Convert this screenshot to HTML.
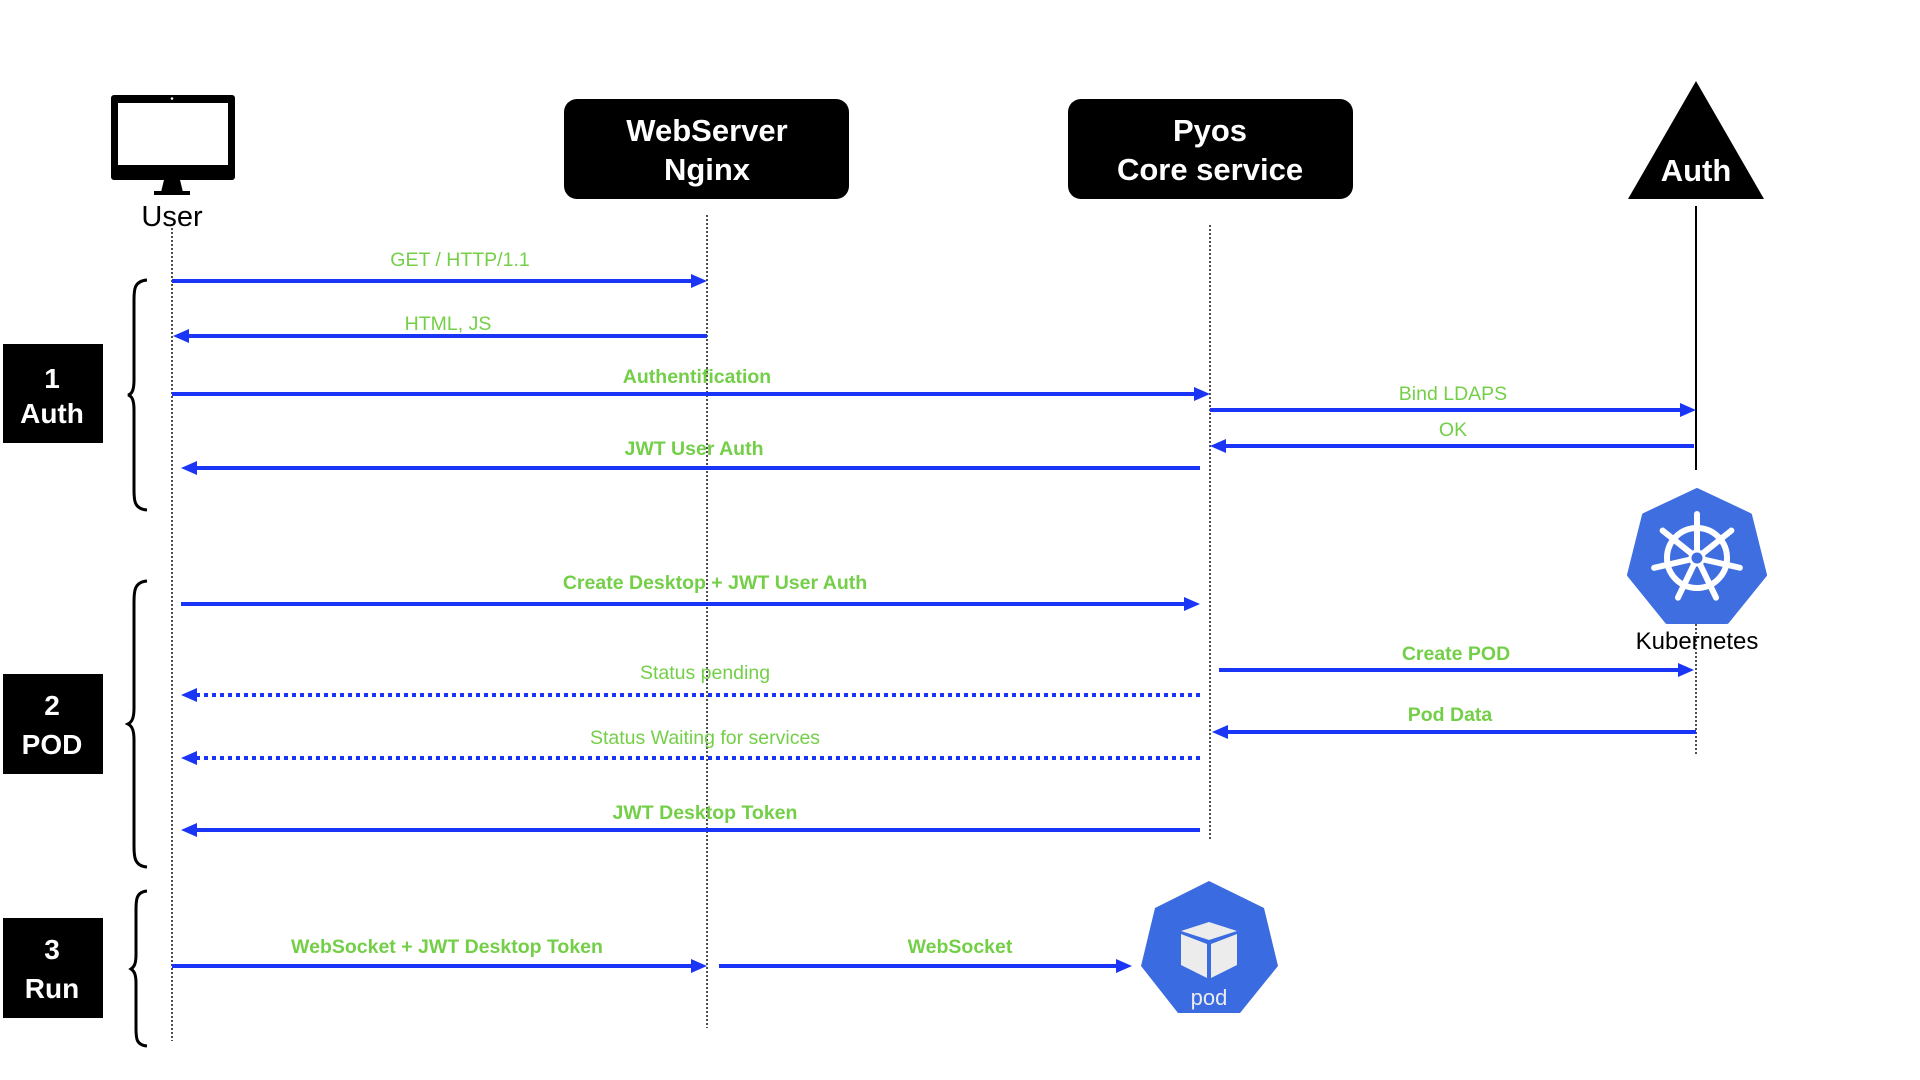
<!DOCTYPE html>
<html><head><meta charset="utf-8"><style>
html,body{margin:0;padding:0;background:#fff;width:1920px;height:1080px;overflow:hidden}
svg{display:block}
text{font-family:"Liberation Sans",Arial,sans-serif}
.lb{fill:#74cf48;font-size:19.5px;text-anchor:middle}
.lbb{fill:#74cf48;font-size:19.5px;font-weight:bold;text-anchor:middle}
.ar{stroke:#1a35f5;stroke-width:4;fill:none}
.ad{stroke:#1a35f5;stroke-width:4;fill:none;stroke-dasharray:4 4}
.ll{stroke:#222;stroke-width:1.6;stroke-dasharray:2 2;fill:none}
.hd{fill:#1a35f5}
.wt{fill:#fff;font-weight:bold;text-anchor:middle}
</style></head><body>
<svg width="1920" height="1080" viewBox="0 0 1920 1080">
<line class="ll" x1="172" y1="228" x2="172" y2="1041"/>
<line class="ll" x1="707" y1="215" x2="707" y2="1028"/>
<line class="ll" x1="1210" y1="225" x2="1210" y2="839"/>
<line class="ll" x1="1696" y1="620" x2="1696" y2="755"/>
<line x1="1696" y1="206" x2="1696" y2="470" stroke="#000" stroke-width="2"/>

<rect x="111" y="95" width="124" height="85" rx="3" fill="#000"/>
<rect x="118" y="103" width="110" height="62" fill="#fff"/>
<circle cx="172" cy="98.5" r="1.3" fill="#fff"/>
<polygon points="164,180 180,180 183,192 161,192" fill="#000"/>
<rect x="154" y="191" width="36" height="4" fill="#000"/>
<text x="172" y="226" font-size="29" text-anchor="middle" fill="#000">User</text>

<rect x="564" y="99" width="285" height="100" rx="13" fill="#000"/>
<text class="wt" x="707" y="141" font-size="31">WebServer</text>
<text class="wt" x="707" y="180" font-size="31">Nginx</text>
<rect x="1068" y="99" width="285" height="100" rx="13" fill="#000"/>
<text class="wt" x="1210" y="141" font-size="31">Pyos</text>
<text class="wt" x="1210" y="180" font-size="31">Core service</text>
<polygon points="1696,81 1764,199 1628,199" fill="#000"/>
<text class="wt" x="1696" y="181" font-size="31">Auth</text>

<rect x="3" y="344" width="100" height="99" fill="#000"/>
<text class="wt" x="52" y="388" font-size="28">1</text>
<text class="wt" x="52" y="423" font-size="28">Auth</text>
<rect x="3" y="674" width="100" height="100" fill="#000"/>
<text class="wt" x="52" y="715" font-size="28">2</text>
<text class="wt" x="52" y="754" font-size="28">POD</text>
<rect x="3" y="918" width="100" height="100" fill="#000"/>
<text class="wt" x="52" y="959" font-size="28">3</text>
<text class="wt" x="52" y="998" font-size="28">Run</text>

<g stroke="#000" stroke-width="3" fill="none">
<path d="M147,280 C134,281 134,290 134,300 L134,380 C134,390 132,394 128,395 C132,396 134,400 134,410 L134,490 C134,500 134,509 147,510"/>
<path d="M147,581 C134,582 134,592 134,602 L134,708 C134,718 132,722 128,724 C132,726 134,730 134,740 L134,846 C134,856 134,866 147,867"/>
<path d="M147,891 C136,892 136,900 136,910 L136,955 C136,964 134,967 131,969 C134,971 136,974 136,983 L136,1028 C136,1038 136,1045 147,1046"/>
</g>

<line class="ar" x1="172" y1="281" x2="693" y2="281"/><polygon class="hd" points="707,281 691,274 691,288"/>
<text class="lb" x="460" y="266">GET / HTTP/1.1</text>

<line class="ar" x1="707" y1="336" x2="186" y2="336"/><polygon class="hd" points="173,336 189,329 189,343"/>
<text class="lb" x="448" y="330">HTML, JS</text>

<line class="ar" x1="172" y1="394" x2="1196" y2="394"/><polygon class="hd" points="1210,394 1194,387 1194,401"/>
<text class="lbb" x="697" y="383">Authentification</text>

<line class="ar" x1="1210" y1="410" x2="1682" y2="410"/><polygon class="hd" points="1696,410 1680,403 1680,417"/>
<text class="lb" x="1453" y="400">Bind LDAPS</text>

<line class="ar" x1="1694" y1="446" x2="1223" y2="446"/><polygon class="hd" points="1210,446 1226,439 1226,453"/>
<text class="lb" x="1453" y="436">OK</text>

<line class="ar" x1="1200" y1="468" x2="194" y2="468"/><polygon class="hd" points="181,468 197,461 197,475"/>
<text class="lbb" x="694" y="455">JWT User Auth</text>

<line class="ar" x1="181" y1="604" x2="1186" y2="604"/><polygon class="hd" points="1200,604 1184,597 1184,611"/>
<text class="lbb" x="715" y="589">Create Desktop + JWT User Auth</text>

<line class="ar" x1="1219" y1="670" x2="1680" y2="670"/><polygon class="hd" points="1694,670 1678,663 1678,677"/>
<text class="lbb" x="1456" y="660">Create POD</text>

<line class="ad" x1="1200" y1="695" x2="196" y2="695"/><polygon class="hd" points="181,695 197,688 197,702"/>
<text class="lb" x="705" y="679">Status pending</text>

<line class="ar" x1="1696" y1="732" x2="1226" y2="732"/><polygon class="hd" points="1212,732 1228,725 1228,739"/>
<text class="lbb" x="1450" y="721">Pod Data</text>

<line class="ad" x1="1200" y1="758" x2="196" y2="758"/><polygon class="hd" points="181,758 197,751 197,765"/>
<text class="lb" x="705" y="744">Status Waiting for services</text>

<line class="ar" x1="1200" y1="830" x2="195" y2="830"/><polygon class="hd" points="181,830 197,823 197,837"/>
<text class="lbb" x="705" y="819">JWT Desktop Token</text>

<line class="ar" x1="172" y1="966" x2="693" y2="966"/><polygon class="hd" points="707,966 691,959 691,973"/>
<text class="lbb" x="447" y="953">WebSocket + JWT Desktop Token</text>

<line class="ar" x1="719" y1="966" x2="1119" y2="966"/><polygon class="hd" points="1132,966 1116,959 1116,973"/>
<text class="lbb" x="960" y="953">WebSocket</text>

<polygon points="1697,490 1750,515 1765,575 1727,622 1667,622 1629,575 1644,515" fill="#3f6ee0" stroke="#3f6ee0" stroke-width="4" stroke-linejoin="round"/>
<g stroke="#fff" stroke-width="6" fill="none" stroke-linecap="round">
<circle cx="1697" cy="558" r="30"/>
<g transform="translate(1697,558)">
<line x1="0" y1="0" x2="0" y2="-44"/>
<line x1="0" y1="0" x2="0" y2="-44" transform="rotate(51.4)"/>
<line x1="0" y1="0" x2="0" y2="-44" transform="rotate(102.8)"/>
<line x1="0" y1="0" x2="0" y2="-44" transform="rotate(154.3)"/>
<line x1="0" y1="0" x2="0" y2="-44" transform="rotate(205.7)"/>
<line x1="0" y1="0" x2="0" y2="-44" transform="rotate(257.1)"/>
<line x1="0" y1="0" x2="0" y2="-44" transform="rotate(308.6)"/>
</g></g>
<circle cx="1697" cy="558" r="7" fill="#3f6ee0" stroke="#fff" stroke-width="3"/>
<text x="1697" y="649" font-size="24" text-anchor="middle" fill="#000">Kubernetes</text>

<polygon points="1209,881 1264,908 1278,966 1240,1013 1178,1013 1141,966 1155,908" fill="#3a6be0"/>
<polygon points="1209,922 1237,931 1209,940 1181,931" fill="#ececec"/>
<polygon points="1181,934 1207,944 1207,978 1181,965" fill="#ececec"/>
<polygon points="1211,944 1237,934 1237,965 1211,978" fill="#ececec"/>
<text x="1209" y="1005" font-size="22" text-anchor="middle" fill="#ececec">pod</text>
</svg>
</body></html>
